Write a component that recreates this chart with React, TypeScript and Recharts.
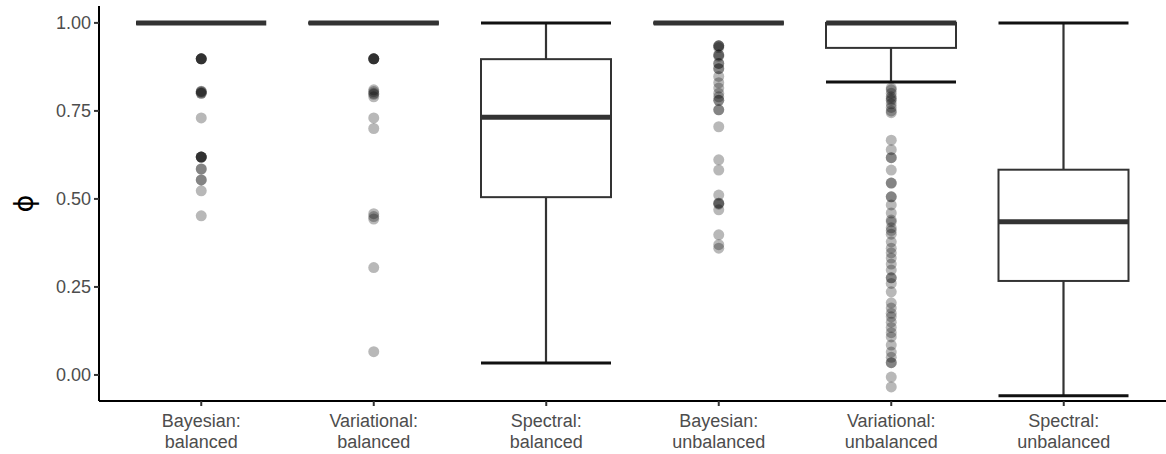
import { ComposedChart, Bar, Scatter, XAxis, YAxis } from 'recharts'

document.body.style.margin = '0'

const categories = [
  'Bayesian: balanced',
  'Variational: balanced',
  'Spectral: balanced',
  'Bayesian: unbalanced',
  'Variational: unbalanced',
  'Spectral: unbalanced',
]
const whiskerLow = [1, 1, 0.034, 1, 0.832, -0.059]
const quartile1 = [1, 1, 0.505, 1, 0.929, 0.267]
const medians = [1, 1, 0.732, 1, 1, 0.435]
const quartile3 = [1, 1, 0.897, 1, 1, 0.583]
const whiskerHigh = [1, 1, 1, 1, 1, 1]

const yTicks = [0, 0.25, 0.5, 0.75, 1]

// outliers per category (repeated values overlap and show darker)
const bayesBalancedOut = [
  0.898, 0.898, 0.898, 0.898, 0.898, 0.806, 0.803, 0.8, 0.805, 0.8, 0.73,
  0.619, 0.619, 0.619, 0.619, 0.619, 0.585, 0.585, 0.554, 0.554, 0.523, 0.452,
]
const variationalBalancedOut = [
  0.898, 0.898, 0.898, 0.898, 0.898, 0.81, 0.805, 0.8, 0.797, 0.79, 0.73, 0.7,
  0.458, 0.45, 0.443, 0.305, 0.066,
]
const bayesUnbalancedOut = [
  0.935, 0.935, 0.935, 0.93, 0.909, 0.909, 0.905, 0.885, 0.885, 0.87, 0.87,
  0.848, 0.83, 0.815, 0.8, 0.79, 0.78, 0.78, 0.753, 0.753, 0.705, 0.611, 0.582,
  0.511, 0.488, 0.488, 0.485, 0.469, 0.398, 0.37, 0.36,
]
const variationalUnbalancedOut = [
  0.815, 0.81, 0.8, 0.79, 0.785, 0.78, 0.77, 0.76, 0.75, 0.745, 0.667, 0.64,
  0.617, 0.617, 0.582, 0.545, 0.545, 0.506, 0.506, 0.483, 0.46, 0.44, 0.435,
  0.418, 0.41, 0.4, 0.378, 0.36, 0.347, 0.332, 0.315, 0.298, 0.276, 0.276, 0.26,
  0.236, 0.205, 0.19, 0.175, 0.165, 0.15, 0.135, 0.12, 0.108, 0.085, 0.065,
  0.05, 0.035, 0.035, -0.006, -0.034,
]

const boxes = categories.map((name, i) => ({
  name,
  whisker: [whiskerLow[i], whiskerHigh[i]],
  box: [quartile1[i], quartile3[i]],
  median: medians[i],
}))

const outliers = [
  ...bayesBalancedOut.map((v) => ({ name: categories[0], value: v })),
  ...variationalBalancedOut.map((v) => ({ name: categories[1], value: v })),
  ...bayesUnbalancedOut.map((v) => ({ name: categories[3], value: v })),
  ...variationalUnbalancedOut.map((v) => ({ name: categories[4], value: v })),
]

const BOX_WIDTH = 130
const FONT = '"Liberation Sans", Arial, Helvetica, sans-serif'

function WhiskerShape(props: any) {
  const { x, y, width, height } = props
  const cx = x + width / 2
  return (
    <g>
      <line x1={cx} x2={cx} y1={y} y2={y + height} stroke="#333" strokeWidth={2.2} />
      <line x1={x} x2={x + width} y1={y} y2={y} stroke="#111" strokeWidth={3} />
      <line x1={x} x2={x + width} y1={y + height} y2={y + height} stroke="#111" strokeWidth={3} />
    </g>
  )
}

function BoxShape(props: any) {
  const { x, y, width, height } = props
  return <rect x={x} y={y} width={width} height={height} fill="#fff" stroke="#333" strokeWidth={2} />
}

function MedianShape(props: any) {
  const { cx, cy } = props
  return (
    <line x1={cx - BOX_WIDTH / 2} x2={cx + BOX_WIDTH / 2} y1={cy} y2={cy} stroke="#333" strokeWidth={5} />
  )
}

function OutlierShape(props: any) {
  const { cx, cy } = props
  return <circle cx={cx} cy={cy} r={5.5} fill="#000" fillOpacity={0.28} />
}

function CategoryTick(props: any) {
  const { x, y, payload } = props
  const [first, second] = String(payload.value).split(' ')
  return (
    <text x={x} y={y} textAnchor="middle" fill="#4d4d4d" fontSize={18} fontFamily={FONT}>
      <tspan x={x} dy={19}>{first}</tspan>
      <tspan x={x} dy={20.6}>{second}</tspan>
    </text>
  )
}

function PhiLabel(props: any) {
  const { viewBox } = props
  const x = viewBox.x + 23
  const y = viewBox.y + viewBox.height / 2
  return (
    <text
      x={x}
      y={y}
      transform={`rotate(-90, ${x}, ${y})`}
      textAnchor="middle"
      dominantBaseline="central"
      fill="#000"
      fontSize={27}
      fontFamily='"DejaVu Sans", sans-serif'
    >
      ϕ
    </text>
  )
}

export default function App() {
  return (
    <div style={{ width: 1166, height: 454, background: '#fff' }}>
      <ComposedChart
        width={1166}
        height={454}
        data={boxes}
        margin={{ top: 6, right: 0, bottom: 0, left: 0 }}
        barSize={BOX_WIDTH}
      >
        <XAxis
          dataKey="name"
          type="category"
          allowDuplicatedCategory={false}
          padding={{ left: 16, right: 16 }}
          height={53}
          axisLine={{ stroke: '#000', strokeWidth: 2 }}
          tickLine={{ stroke: '#333', strokeWidth: 2 }}
          tickSize={5}
          tickMargin={2}
          interval={0}
          tick={<CategoryTick />}
        />
        <XAxis
          xAxisId="w"
          dataKey="name"
          type="category"
          allowDuplicatedCategory={false}
          padding={{ left: 16, right: 16 }}
          hide
        />
        <YAxis
          type="number"
          domain={[-0.074, 1.048]}
          allowDataOverflow
          ticks={yTicks}
          tickFormatter={(v) => Number(v).toFixed(2)}
          width={99}
          axisLine={{ stroke: '#000', strokeWidth: 2 }}
          tickLine={{ stroke: '#333', strokeWidth: 2 }}
          tickSize={5}
          tickMargin={3}
          tick={{ fill: '#4d4d4d', fontSize: 18, fontFamily: FONT }}
          label={<PhiLabel />}
        />
        <Bar xAxisId="w" dataKey="whisker" shape={<WhiskerShape />} isAnimationActive={false} />
        <Bar dataKey="box" shape={<BoxShape />} isAnimationActive={false} />
        <Scatter data={boxes} dataKey="median" shape={<MedianShape />} isAnimationActive={false} />
        <Scatter data={outliers} dataKey="value" shape={<OutlierShape />} isAnimationActive={false} />
      </ComposedChart>
    </div>
  )
}
